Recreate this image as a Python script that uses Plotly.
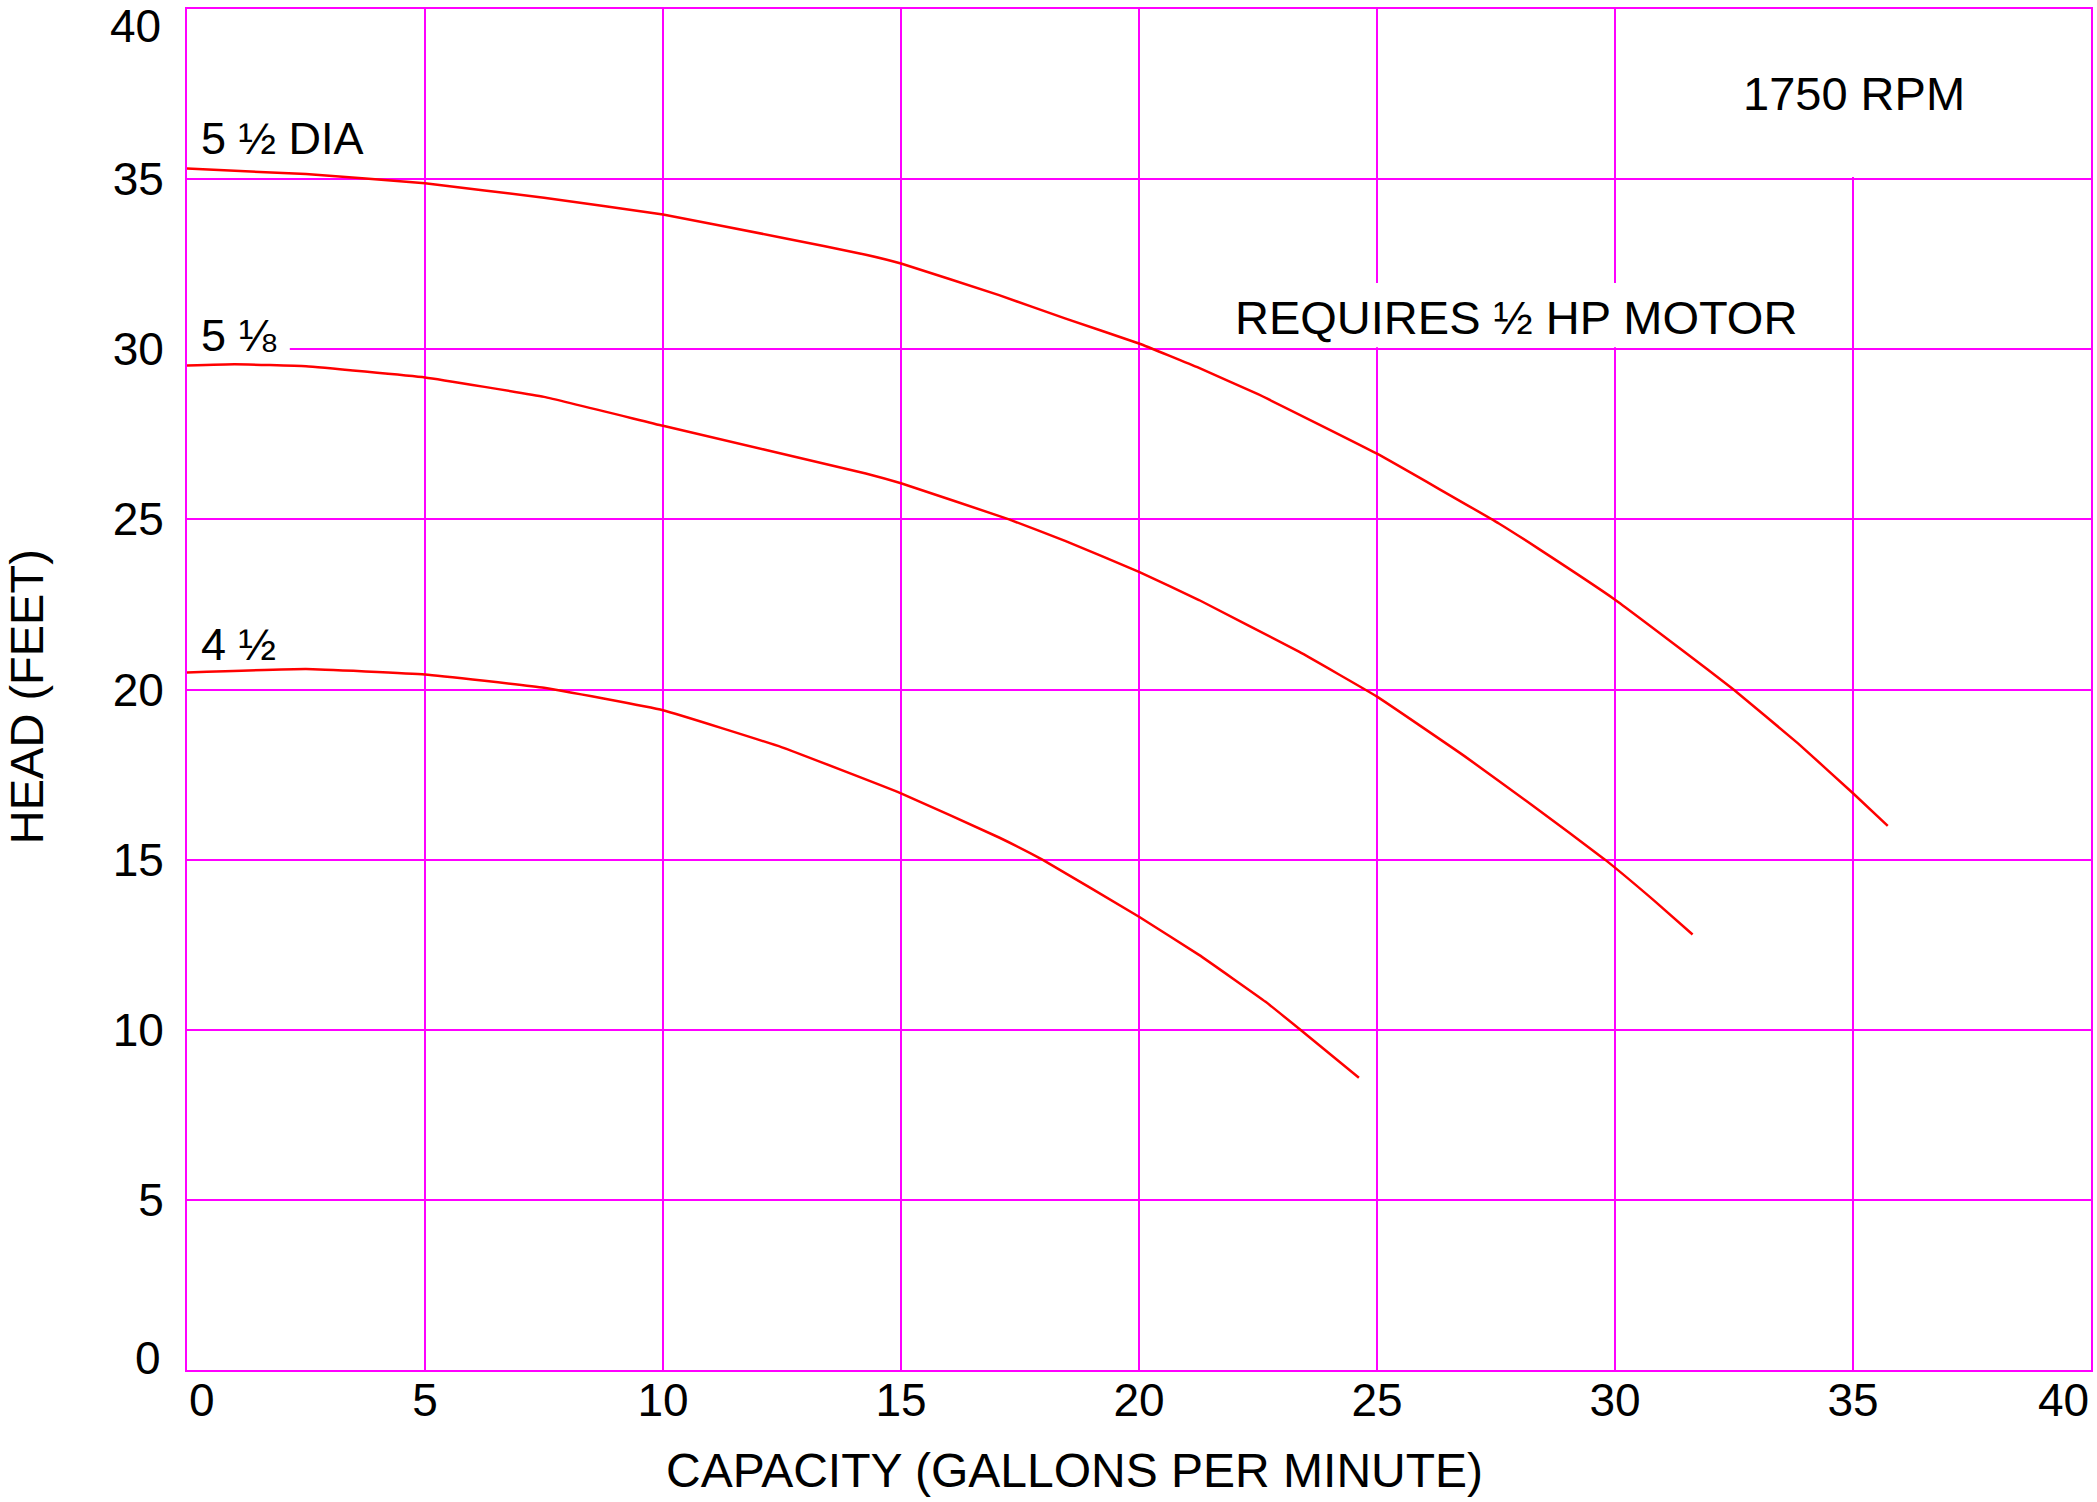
import plotly.graph_objects as go

# ---- data ----
GPM_5_1_2 = [0, 2.5, 5, 7.5, 10, 12.5, 14.26, 15, 17.06, 18.46, 20, 21.26, 22.5, 25, 27.56, 28.39,
             30, 31.4, 32.49, 33.85, 35, 35.73]
HEAD_5_1_2 = [35.31, 35.15, 34.88, 34.45, 33.96, 33.28, 32.78, 32.52, 31.59, 30.9, 30.17, 29.45, 28.68,
              26.93, 24.88, 24.14, 22.64, 21.17, 20.0, 18.41, 16.95, 15.99]

GPM_5_1_8 = [0, 1, 2.5, 5, 7.5, 10, 14.26, 15, 17.27, 18.46, 20, 21.26, 23.36, 25,
             26.86, 28.26, 29.79, 30.81, 31.63]
HEAD_5_1_8 = [29.52, 29.56, 29.5, 29.17, 28.6, 27.75, 26.35, 26.06, 25.0, 24.36, 23.46, 22.63,
              21.11, 19.79, 18.02, 16.6, 15.0, 13.81, 12.8]

GPM_4_1_2 = [0, 2.5, 5, 7.5, 10, 12.5, 15, 17.06, 17.97, 20, 21.26, 22.66, 23.39, 24.62]
HEAD_4_1_2 = [20.5, 20.6, 20.44, 20.05, 19.39, 18.3, 16.95, 15.65, 15.0, 13.32, 12.2, 10.82, 10.0, 8.59]

CURVE_LABELS = ["5 \u00bd DIA", "5 \u215b", "4 \u00bd"]
X_TICKS = [0, 5, 10, 15, 20, 25, 30, 35, 40]
Y_TICKS = [0, 5, 10, 15, 20, 25, 30, 35, 40]
X_TITLE = "CAPACITY (GALLONS PER MINUTE)"
Y_TITLE = "HEAD (FEET)"
NOTE_RPM = "1750 RPM"
NOTE_MOTOR = "REQUIRES \u00bd HP MOTOR"

FONT = "Liberation Sans, Arial, sans-serif"
MAG = "#FF00FF"
RED = "#FF0000"

fig = go.Figure()
for gx, hy in [(GPM_5_1_2, HEAD_5_1_2), (GPM_5_1_8, HEAD_5_1_8), (GPM_4_1_2, HEAD_4_1_2)]:
    fig.add_trace(go.Scatter(x=gx, y=hy, mode="lines",
                             line=dict(color=RED, width=2.5, shape="spline", smoothing=0.3),
                             showlegend=False, hoverinfo="skip"))

def inner_text(vals):
    return [str(v) if (v != vals[0] and v != vals[-1]) else "" for v in vals]

axis_common = dict(showgrid=True, gridcolor=MAG, gridwidth=2, showline=True, linecolor=MAG,
                   linewidth=2, mirror=True, zeroline=False,
                   tickfont=dict(family=FONT, size=46, color="black"))

fig.update_xaxes(range=[0, 40], tickvals=X_TICKS, ticktext=inner_text(X_TICKS),
                 ticks="", ticklabelstandoff=-11, **axis_common)
fig.update_yaxes(range=[0, 40], tickvals=Y_TICKS, ticktext=inner_text(Y_TICKS),
                 ticks="outside", ticklen=12, tickcolor="rgba(0,0,0,0)", **axis_common)

# white patches that interrupt the grid behind the text
fig.add_shape(type="rect", x0=0, x1=2.16, y0=29.8, y1=31.0, fillcolor="white", line_width=0, layer="between")
fig.add_shape(type="rect", x0=21.5, x1=34.3, y0=30.06, y1=31.95, fillcolor="white", line_width=0, layer="between")
fig.add_shape(type="rect", x0=31.0, x1=39.9, y0=35.06, y1=40, fillcolor="white", line_width=0, layer="between")

ann_font = dict(family=FONT, size=46, color="black")
lab_font = dict(family=FONT, size=45, color="black")
annotations = []
# end tick labels kept inside the frame
annotations.append(dict(x=0, y=-0.022, xref="x", yref="paper", text=str(X_TICKS[0]), showarrow=False,
                        xanchor="left", yanchor="middle", font=ann_font))
annotations.append(dict(x=40, y=-0.022, xref="x", yref="paper", text=str(X_TICKS[-1]), showarrow=False,
                        xanchor="right", yanchor="middle", font=ann_font))
annotations.append(dict(x=-0.0126, y=39.51, xref="paper", yref="y", text=str(Y_TICKS[-1]), showarrow=False,
                        xanchor="right", yanchor="middle", font=ann_font))
annotations.append(dict(x=-0.0126, y=0.35, xref="paper", yref="y", text=str(Y_TICKS[0]), showarrow=False,
                        xanchor="right", yanchor="middle", font=ann_font))
# curve labels
for lab, yy in zip(CURVE_LABELS, [36.19, 30.41, 21.33]):
    annotations.append(dict(x=0.25, y=yy, xref="x", yref="y", text=lab, showarrow=False,
                            xanchor="left", yanchor="middle", font=lab_font))
annotations.append(dict(x=35.02, y=37.51, xref="x", yref="y", text=NOTE_RPM, showarrow=False,
                        xanchor="center", yanchor="middle", font=dict(family=FONT, size=47, color="black")))
annotations.append(dict(x=27.93, y=30.93, xref="x", yref="y", text=NOTE_MOTOR, showarrow=False,
                        xanchor="center", yanchor="middle", font=dict(family=FONT, size=47, color="black")))
# axis titles
annotations.append(dict(x=0.4659, y=-0.0735, xref="paper", yref="paper", text=X_TITLE, showarrow=False,
                        xanchor="center", yanchor="middle", font=dict(family=FONT, size=48, color="black")))
annotations.append(dict(x=-0.0839, y=0.4945, xref="paper", yref="paper", text=Y_TITLE, showarrow=False,
                        textangle=-90, xanchor="center", yanchor="middle",
                        font=dict(family=FONT, size=47, color="black")))

fig.update_layout(width=2097, height=1502, autosize=False,
                  margin=dict(l=187, r=4, t=9, b=132),
                  paper_bgcolor="white", plot_bgcolor="white",
                  annotations=annotations, font=dict(family=FONT, color="black"))

fig.write_html("out.html", config={"displayModeBar": False},
               post_script="document.body.style.margin='0px';document.body.style.overflow='hidden';")
